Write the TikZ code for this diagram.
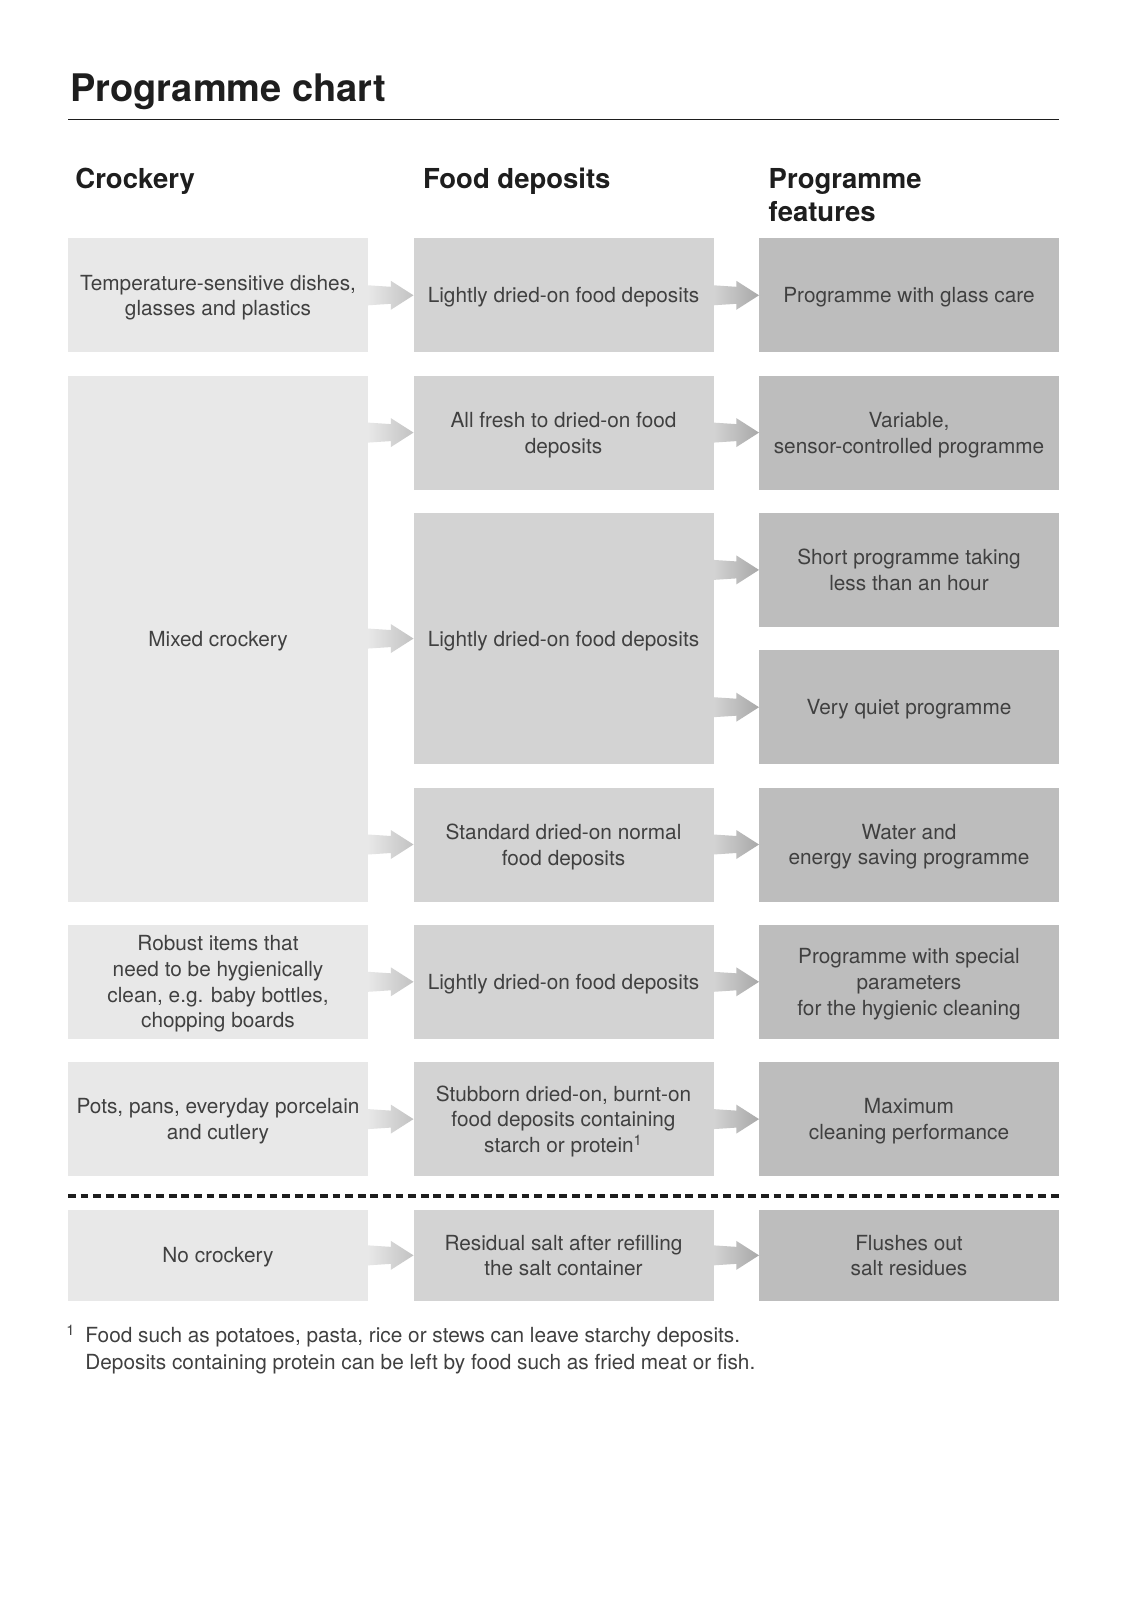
\documentclass[tikz,border=0pt]{standalone}
\usepackage{fontspec}
\setmainfont{TeX Gyre Heros}
\usetikzlibrary{positioning,calc}

\definecolor{crockfill}{HTML}{E8E8E8}
\definecolor{foodfill}{HTML}{D3D3D3}
\definecolor{featfill}{HTML}{BDBDBD}
\definecolor{flowtipA}{HTML}{C2C2C2}
\definecolor{flowtipB}{HTML}{A8A8A8}
\definecolor{inktext}{HTML}{404040}
\definecolor{inkhead}{HTML}{1E1E1E}

% block arrow from the east side of #1 to the west side of #2
\newcommand{\flowarrow}[3]{%
  \path[#3] let \p1=(#1.east), \p2=(#2.west) in
    (\x1,{\y2+5pt}) -- ({\x2-11.35pt},{\y2+4.25pt}) -- ({\x2-11.35pt},{\y2+7.25pt})
    -- (\x2,\y2) -- ({\x2-11.35pt},{\y2-7.25pt}) -- ({\x2-11.35pt},{\y2-4.25pt})
    -- (\x1,{\y2-5pt}) -- cycle;}

\begin{document}
\begin{tikzpicture}[
  x=0.5pt, y=-0.5pt,
  node distance=11.65pt and 22.75pt,
  box/.style={
    inner sep=0pt,
    outer sep=0pt,
    minimum width=150pt,
    minimum height=57pt,
    align=center,
    text depth=0pt,
    text=inktext,
    font=\fontsize{10.4pt}{12.85pt}\selectfont
  },
  crock/.style={box, fill=crockfill},
  food/.style={box, fill=foodfill},
  feat/.style={box, fill=featfill},
  head/.style={anchor=base west, inner sep=0pt, align=left, text=inkhead,
    font=\fontsize{13.75pt}{16.35pt}\selectfont\bfseries},
  flowlight/.style={left color=crockfill, right color=flowtipA},
  flowdark/.style={left color=foodfill, right color=flowtipB},
  dashrule/.style={line width=1.6pt, draw=inkhead, dash pattern=on 3.9pt off 2.4pt}
]
  \path[use as bounding box, fill=white] (0,0) rectangle (1128,1600);

  % title and column heads
  \node[anchor=base west, inner sep=0pt, text=inkhead, font=\fontsize{19pt}{22pt}\selectfont\bfseries]
    (title) at (70,101.7) {Programme chart};
  \coordinate (ruleL) at (68,119.3);
  \coordinate (ruleR) at (1059,119.3);
  \draw[line width=0.75pt, inkhead] (ruleL) -- (ruleR);

  \node[head] (hcrock) at (75,188.3) {Crockery};
  \node[head] (hfood) at (422.6,188.3) {Food deposits};
  \node[head] (hfeat) at (768.3,221) {Programme\\features};

  % first row
  \node[crock] (temp) at (218,295.3) {Temperature-sensitive dishes,\\glasses and plastics};
  \node[food, right=of temp] (light1) {Lightly dried-on food deposits};
  \node[feat, right=of light1] (glass) {Programme with glass care};

  % mixed crockery
  \node[crock, below=of temp, minimum height=262.95pt] (mixed) {Mixed crockery};
  \node[food, below=of light1] (allfresh) {All fresh to dried-on food\\deposits};
  \node[food, below=of allfresh, minimum height=125.65pt] (light2) {Lightly dried-on food deposits};
  \node[food, below=of light2] (standard) {Standard dried-on normal\\food deposits};
  \node[feat, below=of glass] (variable) {Variable,\\sensor-controlled programme};
  \node[feat, below=of variable] (shortprog) {Short programme taking\\less than an hour};
  \node[feat, below=of shortprog] (quiet) {Very quiet programme};
  \node[feat, below=of quiet] (water) {Water and\\energy saving programme};

  % hygiene and intensive rows
  \node[crock, below=of mixed] (robust) {Robust items that\\need to be hygienically\\clean, e.g. baby bottles,\\chopping boards};
  \node[food, below=of standard] (light3) {Lightly dried-on food deposits};
  \node[feat, below=of water] (special) {Programme with special\\parameters\\for the hygienic cleaning};

  \node[crock, below=of robust] (pots) {Pots, pans, everyday porcelain\\and cutlery};
  \node[food, below=of light3] (stubborn) {Stubborn dried-on, burnt-on\\food deposits containing\\starch or protein\textsuperscript{1}};
  \node[feat, below=of special] (maximum) {Maximum\\cleaning performance};

  % separate row below the dashed line
  \coordinate (dashL) at (68,1196);
  \coordinate (dashR) at (1059,1196);
  \draw[dashrule] (dashL) -- (dashR);

  \node[crock, below=16.95pt of pots, minimum height=45.35pt] (nocrock) {No crockery};
  \node[food, below=16.95pt of stubborn, minimum height=45.35pt] (residual) {Residual salt after refilling\\the salt container};
  \node[feat, below=16.95pt of maximum, minimum height=45.35pt] (flushes) {Flushes out\\salt residues};

  \flowarrow{temp}{light1}{flowlight}
  \flowarrow{light1}{glass}{flowdark}
  \flowarrow{mixed}{allfresh}{flowlight}
  \flowarrow{mixed}{light2}{flowlight}
  \flowarrow{mixed}{standard}{flowlight}
  \flowarrow{allfresh}{variable}{flowdark}
  \flowarrow{light2}{shortprog}{flowdark}
  \flowarrow{light2}{quiet}{flowdark}
  \flowarrow{standard}{water}{flowdark}
  \flowarrow{robust}{light3}{flowlight}
  \flowarrow{light3}{special}{flowdark}
  \flowarrow{pots}{stubborn}{flowlight}
  \flowarrow{stubborn}{maximum}{flowdark}
  \flowarrow{nocrock}{residual}{flowlight}
  \flowarrow{residual}{flushes}{flowdark}

  % footnote
  \node[anchor=base west, inner sep=0pt, align=left, text=inktext,
    font=\fontsize{10.4pt}{13.3pt}\selectfont] (fnote) at (85,1369)
    {\llap{\textsuperscript{1}\hspace{5pt}}Food such as potatoes, pasta, rice or stews can leave starchy deposits.\\Deposits containing protein can be left by food such as fried meat or fish.};
\end{tikzpicture}
\end{document}
